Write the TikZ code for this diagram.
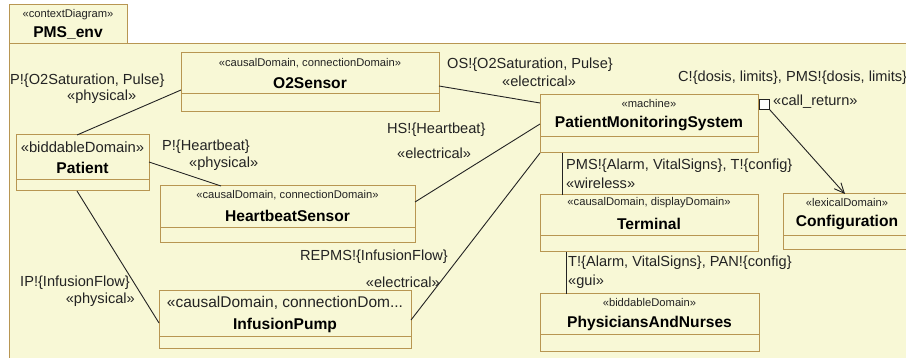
\documentclass[tikz,border=0pt]{standalone}
\usepackage{fontspec}
\setmainfont{Liberation Sans}
\usetikzlibrary{arrows.meta}
\definecolor{umlfill}{RGB}{248,248,214}
\definecolor{umlline}{RGB}{184,150,82}
\definecolor{umltext}{RGB}{35,35,35}

\begin{document}
\begin{tikzpicture}[x=1pt,y=-1pt,
	dom/.style={draw=umlline,fill=umlfill,line width=1pt,anchor=north west,inner sep=0pt,outer sep=0pt},
	sep/.style={draw=umlline,line width=1pt},
	stereo/.style={text=umltext,font=\fontsize{11.2}{13}\selectfont,inner sep=0pt},
	stereobig/.style={text=umltext,font=\fontsize{15.5}{17}\selectfont,inner sep=0pt},
	title/.style={text=black,font=\fontsize{15.6}{17}\selectfont\bfseries,inner sep=0pt},
	lbl/.style={text=umltext,font=\fontsize{14.6}{16}\selectfont,inner sep=0pt},
	conn/.style={draw=umltext,line width=0.9pt}]
\useasboundingbox (0,0) rectangle (906,358);
\clip (0,0) rectangle (906,358);
\fill[white] (0,0) rectangle (906,358);
\draw[umlline,fill=umlfill,line width=1pt] (9,44) rectangle (940,390);
\draw[umlline,fill=umlfill,line width=1pt] (9,5) rectangle (127,44);
\node[stereo] (ctxs) at (68,15) {«contextDiagram»};\node[title] (ctxn) at (68,33) {PMS\_env};

\node[dom,minimum width=258pt,minimum height=59pt] (o2) at (181,53) {};
\draw[sep] ([yshift=-41pt]o2.north west) -- ([yshift=-41pt]o2.north east);
\node[stereo] (o2s) at ([yshift=-10pt]o2.north) {«causalDomain, connectionDomain»};
\node[title] (o2n) at ([yshift=-30pt]o2.north) {O2Sensor};

\node[dom,minimum width=133pt,minimum height=56pt] (pat) at (16,135) {};
\draw[sep] ([yshift=-45pt]pat.north west) -- ([yshift=-45pt]pat.north east);
\node[stereobig,font=\fontsize{14.8}{16}\selectfont] (pats) at ([yshift=-12pt]pat.north) {«biddableDomain»};
\node[title] (patn) at ([yshift=-33pt]pat.north) {Patient};

\node[dom,minimum width=255pt,minimum height=57pt] (hbs) at (160,186) {};
\draw[sep] ([yshift=-42pt]hbs.north west) -- ([yshift=-42pt]hbs.north east);
\node[stereo] (hbss) at ([yshift=-9pt]hbs.north) {«causalDomain, connectionDomain»};
\node[title] (hbsn) at ([yshift=-30pt]hbs.north) {HeartbeatSensor};

\node[dom,minimum width=252pt,minimum height=58pt] (ip) at (159,291) {};
\draw[sep] ([yshift=-46pt]ip.north west) -- ([yshift=-46pt]ip.north east);
\node[stereobig] (ips) at ([yshift=-12pt]ip.north) {«causalDomain, connectionDom...};
\node[title] (ipn) at ([yshift=-34pt]ip.north) {InfusionPump};

\node[dom,minimum width=218pt,minimum height=58pt] (pms) at (540,95) {};
\draw[sep] ([yshift=-42pt]pms.north west) -- ([yshift=-42pt]pms.north east);
\node[stereo] (pmss) at ([yshift=-8pt]pms.north) {«machine»};
\node[title] (pmsn) at ([yshift=-29pt]pms.north) {PatientMonitoringSystem};

\node[dom,minimum width=218pt,minimum height=57pt] (term) at (540,195) {};
\draw[sep] ([yshift=-41pt]term.north west) -- ([yshift=-41pt]term.north east);
\node[stereo] (terms) at ([yshift=-8pt]term.north) {«causalDomain, displayDomain»};
\node[title] (termn) at ([yshift=-29pt]term.north) {Terminal};

\node[dom,minimum width=219pt,minimum height=58pt] (pan) at (540,294) {};
\draw[sep] ([yshift=-41pt]pan.north west) -- ([yshift=-41pt]pan.north east);
\node[stereo] (pans) at ([yshift=-8pt]pan.north) {«biddableDomain»};
\node[title] (pann) at ([yshift=-29pt]pan.north) {PhysiciansAndNurses};

\node[dom,minimum width=128pt,minimum height=56pt] (conf) at (783,194) {};
\draw[sep] ([yshift=-42pt]conf.north west) -- ([yshift=-42pt]conf.north east);
\node[stereo] (confs) at ([yshift=-8pt]conf.north) {«lexicalDomain»};
\node[title] (confn) at ([yshift=-29pt]conf.north) {Configuration};

\draw[conn] ([xshift=61pt]pat.north west) -- ([yshift=-37pt]o2.north west);
\draw[conn] ([yshift=-27pt]pat.north east) -- ([xshift=61pt]hbs.north west);
\draw[conn] ([xshift=61pt]pat.south west) -- ([yshift=-32pt]ip.north west);
\draw[conn] ([yshift=-33pt]o2.north east) -- ([yshift=-8pt]pms.north west);
\draw[conn] ([yshift=-16pt]hbs.north east) -- ([yshift=-29pt]pms.north west);
\draw[conn] ([yshift=-29pt]ip.north east) -- (pms.south west);
\draw[conn] ([xshift=22pt]pms.south west) -- ([xshift=22pt]term.north west);
\draw[conn] ([xshift=26pt]term.south west) -- ([xshift=26pt]pan.north west);
\node[draw=umltext,fill=white,line width=0.8pt,minimum size=10pt,inner sep=0pt,anchor=north west] (port) at ([xshift=1pt,yshift=-4pt]pms.north east) {};
\draw[conn,-{Straight Barb[length=10pt,width=9pt]}] (port.south east) -- ([xshift=62pt]conf.north west);

\node[lbl,anchor=west] (l1) at (10,81) {P!\{O2Saturation, Pulse\}};\node[lbl,anchor=west] (l2) at (67,97) {«physical»};
\node[lbl,anchor=west] (l3) at (162,147) {P!\{Heartbeat\}};\node[lbl,anchor=west] (l4) at (189,164) {«physical»};
\node[lbl,anchor=west] (l5) at (387,130) {HS!\{Heartbeat\}};\node[lbl,anchor=west] (l6) at (397,153) {«electrical»};
\node[lbl,anchor=west] (l7) at (447,65) {OS!\{O2Saturation, Pulse\}};\node[lbl,anchor=west] (l8) at (502,81) {«electrical»};
\node[lbl,anchor=west] (l9) at (678,78) {C!\{dosis, limits\}, PMS!\{dosis, limits\}};
\node[lbl,anchor=west] (l10) at (773,102) {«call\_return»};
\node[lbl,anchor=west] (l11) at (566,166) {PMS!\{Alarm, VitalSigns\}, T!\{config\}};\node[lbl,anchor=west] (l12) at (566,183) {«wireless»};
\node[lbl,anchor=west] (l13) at (568,263) {T!\{Alarm, VitalSigns\}, PAN!\{config\}};\node[lbl,anchor=west] (l14) at (568,282) {«gui»};
\node[lbl,anchor=east] (l15) at (448,257) {REPMS!\{InfusionFlow\}};\node[lbl,anchor=east] (l16) at (440,282) {«electrical»};
\node[lbl,anchor=east] (l17) at (130,283) {IP!\{InfusionFlow\}};\node[lbl,anchor=east] (l18) at (135,300) {«physical»};
\end{tikzpicture}
\end{document}
